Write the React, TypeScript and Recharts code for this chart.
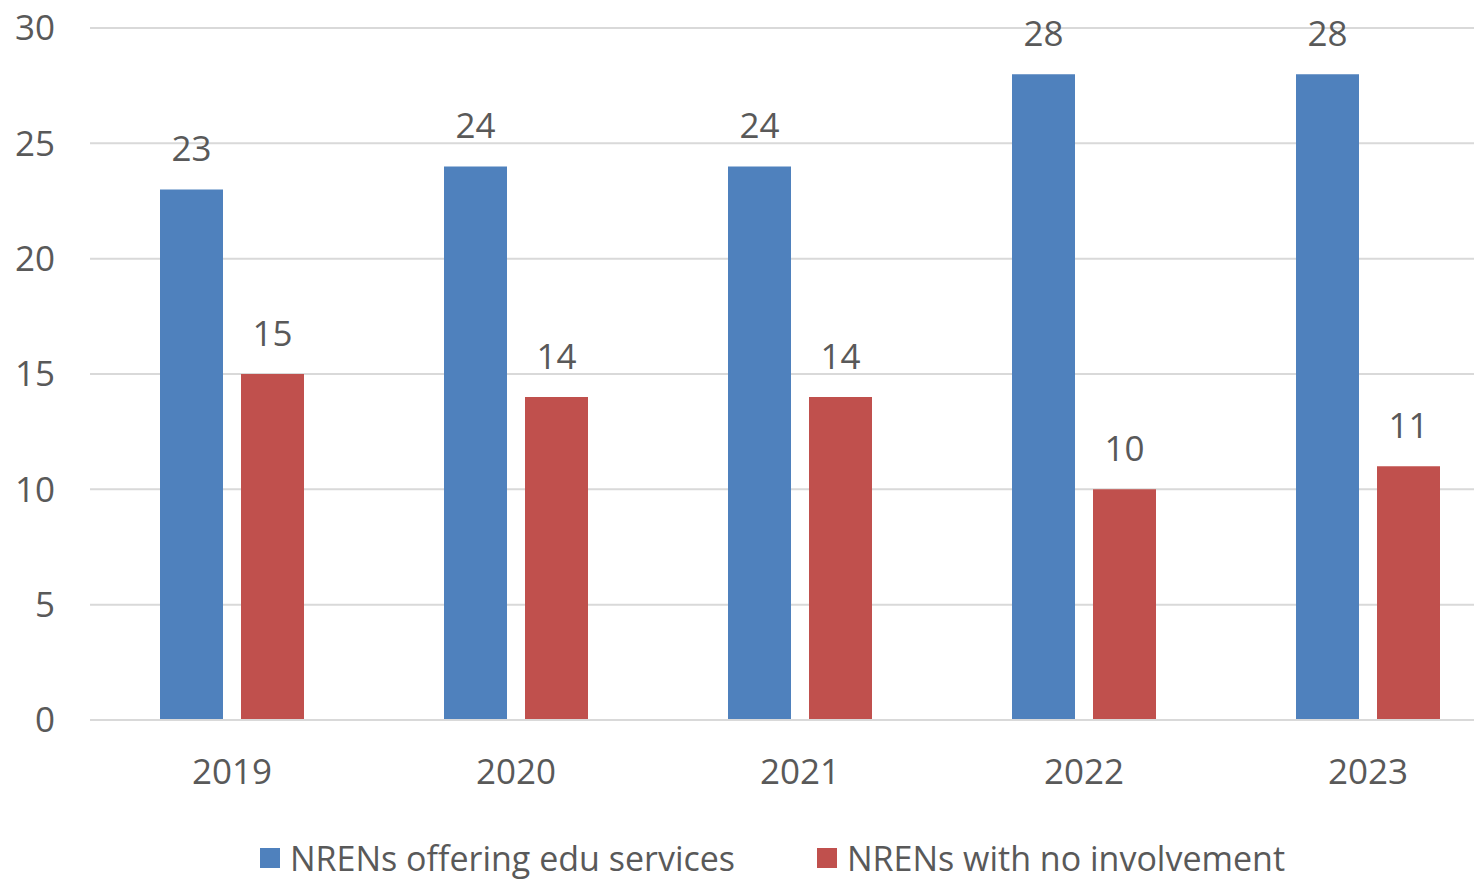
import React from 'react'
import { BarChart, Bar, XAxis, YAxis, CartesianGrid, Legend, LabelList } from 'recharts'

const years = ['2019', '2020', '2021', '2022', '2023']
const eduServices = [23, 24, 24, 28, 28]
const noInvolvement = [15, 14, 14, 10, 11]
const yTicks = [0, 5, 10, 15, 20, 25, 30]

const BLUE = '#4f81bd'
const RED = '#c0504d'
const TEXT = '#595959'
const FONT = '"Open Sans", sans-serif'

const data = years.map((year, i) => ({
  year,
  edu: eduServices[i],
  none: noInvolvement[i],
}))

const legendItems = [
  { label: 'NRENs offering edu services', color: BLUE },
  { label: 'NRENs with no involvement', color: RED },
]

function ChartLegend() {
  return (
    <div style={{ height: 80, position: 'relative', fontFamily: FONT, color: TEXT, fontSize: 34 }}>
      {legendItems.map((item, i) => (
        <div
          key={item.label}
          style={{
            position: 'absolute',
            left: i === 0 ? 260 : 817,
            top: 38,
            display: 'flex',
            alignItems: 'center',
            height: 40,
            whiteSpace: 'nowrap',
          }}
        >
          <span style={{ width: 20, height: 20, background: item.color, marginRight: 10, display: 'inline-block' }} />
          <span>{item.label}</span>
        </div>
      ))}
    </div>
  )
}

export default function App() {
  return (
    <div style={{ position: 'absolute', left: 0, top: 0, width: 1474, height: 880, overflow: 'hidden', background: '#fff' }}>
      <BarChart
        width={1520}
        height={880}
        data={data}
        margin={{ top: 28, right: 10, bottom: 0, left: 0 }}
        barCategoryGap={70}
        barGap={18}
      >
        <CartesianGrid vertical={false} stroke="#d9d9d9" strokeWidth={2} />
        <XAxis
          dataKey="year"
          height={80}
          axisLine={{ stroke: '#d9d9d9', strokeWidth: 2 }}
          tickLine={false}
          tickMargin={33}
          tick={{ fill: TEXT, fontSize: 35, fontFamily: FONT }}
        />
        <YAxis
          width={90}
          domain={[0, 30]}
          ticks={yTicks}
          axisLine={false}
          tickLine={false}
          tickMargin={29}
          tick={{ fill: TEXT, fontSize: 35, fontFamily: FONT }}
        />
        <Legend verticalAlign="bottom" content={() => <ChartLegend />} />
        <Bar dataKey="edu" fill={BLUE} barSize={63} isAnimationActive={false}>
          <LabelList dataKey="edu" position="top" offset={28} fill={TEXT} fontSize={35} fontFamily={FONT} />
        </Bar>
        <Bar dataKey="none" fill={RED} barSize={63} isAnimationActive={false}>
          <LabelList dataKey="none" position="top" offset={28} fill={TEXT} fontSize={35} fontFamily={FONT} />
        </Bar>
      </BarChart>
    </div>
  )
}
